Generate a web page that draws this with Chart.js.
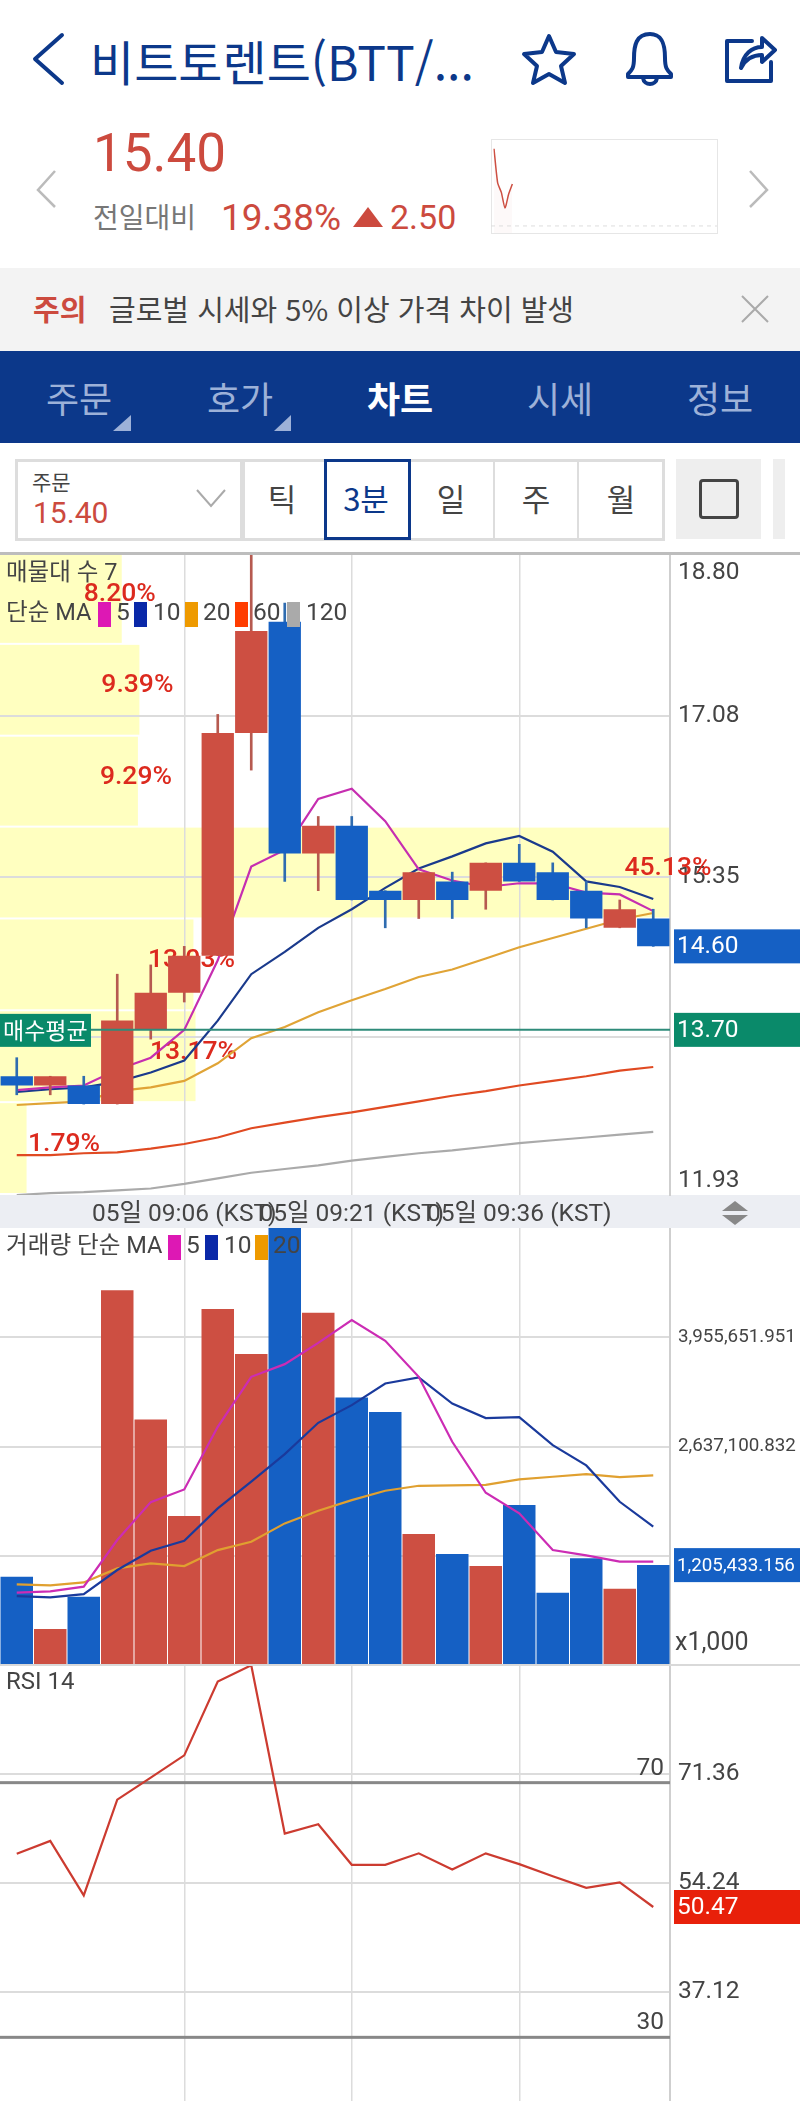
<!DOCTYPE html>
<html lang="ko">
<head>
<meta charset="utf-8">
<title>비트토렌트 차트</title>
<script src="https://cdn.jsdelivr.net/npm/chart.js@4"></script>
<style>
html, body { margin: 0; padding: 0; background: #fff; }
#page { position: relative; width: 800px; height: 2101px; overflow: hidden; font-family: Roboto, "Noto Sans CJK KR", sans-serif; }
#page div, #page span, #page svg, #page canvas { position: absolute; }
.t { white-space: nowrap; line-height: 1; transform: translateY(-50%); }
.c { transform: translate(-50%, -50%); }
.kr { font-family: "Noto Sans CJK KR"; }
.tab { color: #9db1d8; font-size: 36px; top: 397px; }
.btn { top: 497px; font-size: 31px; color: #444; }
</style>
</head>
<body>
<div id="page">
  <!-- header -->
  <svg style="left:0;top:0" width="800" height="100" fill="none" stroke="#0c388a" stroke-width="4" stroke-linejoin="round" stroke-linecap="round">
    <path d="M62 35 L35 59 L62 83"/>
    <path d="M549 36 L556 52 L574 54 L561 66 L565 83 L549 74 L533 83 L537 66 L524 54 L542 52 Z"/>
    <path d="M650 34 C636 34 634 46 634 58 C634 68 632 70 628 74 L628 77 L671 77 L671 74 C667 70 665 68 665 58 C665 46 663 34 650 34 Z M643 78 C644 86 656 86 657 78"/>
    <path d="M752 41 L727 41 L727 81 L771 81 L771 62"/>
    <path d="M741 68 C743 54 752 47 762 47 L762 38 L775 50 L762 62 L762 55 C754 55 746 58 741 68 Z"/>
  </svg>
  <span class="t kr" style="left:90px;top:60px;font-size:48px;color:#0c388a">비트토렌트(BTT/...</span>
  <svg style="left:0;top:160px" width="800" height="60" fill="none" stroke="#bbb" stroke-width="2.5">
    <path d="M55 11 L38 30 L55 47"/><path d="M750 11 L767 30 L750 47"/>
  </svg>
  <span class="t" style="left:93px;top:153px;font-size:53px;color:#cc4a3e">15.40</span>
  <span class="t kr" style="left:93px;top:216px;font-size:28px;color:#777">전일대비</span>
  <span class="t" style="left:221px;top:217px;font-size:37px;color:#cc4a3e">19.38%</span>
  <svg style="left:352px;top:206px" width="32" height="22"><path d="M16 1 L31 21 L1 21 Z" fill="#cc4a3e"/></svg>
  <span class="t" style="left:390px;top:217px;font-size:34px;color:#cc4a3e">2.50</span>
  <div style="left:491px;top:139px;width:225px;height:93px;border:1px solid #e6e6e6"></div>
  <canvas id="sparkChart" width="226" height="94" style="left:491px;top:139px"></canvas>

  <!-- notice -->
  <div style="left:0;top:268px;width:800px;height:83px;background:#f3f3f3"></div>
  <span class="t kr" style="left:33px;top:308px;font-size:29px;font-weight:700;color:#cc4a3e">주의</span>
  <span class="t kr" style="left:109px;top:308px;font-size:29px;color:#444">글로벌 시세와 5% 이상 가격 차이 발생</span>
  <svg style="left:740px;top:295px" width="30" height="28" stroke="#aaa" stroke-width="2"><path d="M2 1 L28 27 M28 1 L2 27"/></svg>

  <!-- tabs -->
  <div style="left:0;top:351px;width:800px;height:92px;background:#0c388a"></div>
  <span class="t c tab kr" style="left:79px">주문</span>
  <span class="t c tab kr" style="left:240px">호가</span>
  <span class="t c tab kr" style="left:400px;color:#fff;font-weight:700">차트</span>
  <span class="t c tab kr" style="left:560px">시세</span>
  <span class="t c tab kr" style="left:720px">정보</span>
  <svg style="left:0;top:410px" width="300" height="24" fill="#9db1d8"><path d="M131 5 L131 21 L113 21 Z"/><path d="M291 5 L291 21 L274 21 Z"/></svg>

  <!-- toolbar -->
  <div style="left:15px;top:459px;width:222px;height:76px;border:3px solid #ddd"></div>
  <span class="t kr" style="left:32px;top:481px;font-size:21px;color:#444">주문</span>
  <span class="t" style="left:33px;top:513px;font-size:30px;color:#cc4a3e">15.40</span>
  <svg style="left:195px;top:488px" width="32" height="20" fill="none" stroke="#aaa" stroke-width="2"><path d="M2 2 L16 18 L30 2"/></svg>
  <div style="left:242px;top:459px;width:417px;height:76px;border:3px solid #ddd"></div>
  <div style="left:409px;top:459px;width:2px;height:80px;background:#ddd"></div>
  <div style="left:493px;top:459px;width:2px;height:80px;background:#ddd"></div>
  <div style="left:577px;top:459px;width:2px;height:80px;background:#ddd"></div>
  <div style="left:324px;top:459px;width:81px;height:75px;border:3px solid #0c388a"></div>
  <span class="t c btn kr" style="left:282px">틱</span>
  <span class="t c btn kr" style="left:366px;color:#0c388a">3분</span>
  <span class="t c btn kr" style="left:451px">일</span>
  <span class="t c btn kr" style="left:536px">주</span>
  <span class="t c btn kr" style="left:621px">월</span>
  <div style="left:676px;top:459px;width:85px;height:80px;background:#eee"></div>
  <div style="left:699px;top:479px;width:34px;height:34px;border:3.5px solid #444;border-radius:4px"></div>
  <div style="left:773px;top:459px;width:12px;height:80px;background:#eee"></div>

  <!-- chart panels -->
  <div style="left:0;top:552px;width:800px;height:3px;background:#bdbdbd;z-index:3"></div>
  <div style="left:0;top:1195px;width:800px;height:33px;background:#eceef3"></div>
  <canvas id="priceChart" width="800" height="675" style="left:0;top:553px"></canvas>
  <canvas id="volumeChart" width="800" height="437" style="left:0;top:1228px"></canvas>
  <canvas id="rsiChart" width="800" height="436" style="left:0;top:1665px"></canvas>
  <div style="left:0;top:1664px;width:800px;height:2px;background:#d9d9d9"></div>
  <svg style="left:715px;top:1200px" width="40" height="26" fill="#888"><path d="M20 1 L33 11 L7 11 Z"/><path d="M20 25 L33 15 L7 15 Z"/></svg>
</div>

<script>
// candles (3 minute bars)
var times = ['05일 08:51 (KST)', '05일 08:54 (KST)', '05일 08:57 (KST)', '05일 09:00 (KST)', '05일 09:03 (KST)',
  '05일 09:06 (KST)', '05일 09:09 (KST)', '05일 09:12 (KST)', '05일 09:15 (KST)', '05일 09:18 (KST)',
  '05일 09:21 (KST)', '05일 09:24 (KST)', '05일 09:27 (KST)', '05일 09:30 (KST)', '05일 09:33 (KST)',
  '05일 09:36 (KST)', '05일 09:39 (KST)', '05일 09:42 (KST)', '05일 09:45 (KST)', '05일 09:48 (KST)'];
var opens  = [13.2, 13.1, 13.1, 12.9, 13.7, 14.1, 14.5, 16.9, 18.1, 15.6, 15.9, 15.2, 15.1, 15.3, 15.2, 15.5, 15.4, 15.2, 14.8, 14.9];
var closes = [13.1, 13.2, 12.9, 13.8, 14.1, 14.5, 16.9, 18.0, 15.6, 15.9, 15.1, 15.1, 15.4, 15.1, 15.5, 15.3, 15.1, 14.9, 15.0, 14.6];
var highs  = [13.4, 13.2, 13.2, 14.3, 14.4, 14.6, 17.1, 19.0, 18.3, 16.0, 16.0, 15.2, 15.4, 15.4, 15.5, 15.7, 15.5, 15.3, 15.1, 15.0];
var lows   = [13.0, 13.0, 12.9, 12.9, 13.6, 14.0, 14.5, 16.5, 15.3, 15.2, 15.1, 14.8, 14.9, 14.9, 15.0, 15.3, 15.1, 14.8, 14.8, 14.6];

var ma5   = [13.05, 13.08, 13.10, 13.27, 13.40, 13.70, 14.45, 15.46, 15.64, 16.19, 16.30, 15.95, 15.43, 15.31, 15.24, 15.28, 15.28, 15.18, 15.16, 14.98];
var ma10  = [13.03, 13.06, 13.08, 13.14, 13.24, 13.37, 13.80, 14.30, 14.54, 14.80, 15.00, 15.23, 15.44, 15.57, 15.71, 15.79, 15.62, 15.30, 15.24, 15.11];
var ma20  = [12.89, 12.91, 12.93, 13.04, 13.08, 13.15, 13.34, 13.61, 13.73, 13.89, 14.02, 14.14, 14.27, 14.35, 14.47, 14.59, 14.69, 14.79, 14.89, 14.96];
var ma60  = [12.35, 12.35, 12.37, 12.38, 12.42, 12.47, 12.54, 12.64, 12.70, 12.76, 12.81, 12.87, 12.93, 12.99, 13.04, 13.10, 13.15, 13.20, 13.26, 13.30];
var ma120 = [11.92, 11.94, 11.95, 11.97, 11.99, 12.04, 12.10, 12.16, 12.20, 12.24, 12.29, 12.33, 12.37, 12.40, 12.44, 12.48, 12.51, 12.54, 12.57, 12.60];

// volume profile, top band first
var profileEdges = [18.84, 17.85, 16.86, 15.88, 14.89, 13.90, 12.91, 11.92];
var profilePct = [8.20, 9.39, 9.29, 45.13, 13.03, 13.17, 1.79];

var priceTicks = [18.80, 17.08, 15.35, 13.62, 11.93];
var lastPrice = 14.60;
var avgBuy = 13.70;

// volume, in thousands
var volumes = [1065000, 434000, 824000, 4524000, 2964000, 1797000, 4298000, 3752000, 5600000, 4250000,
  3229000, 3052000, 1580000, 1339000, 1194000, 1930000, 872000, 1287000, 920000, 1205433.156];
var volMa5  = [872600, 888600, 945000, 1508000, 1966000, 2119000, 2875000, 3478000, 3631000, 3888000,
  4162000, 3912000, 3478000, 2694000, 2079000, 1830000, 1387000, 1323000, 1247000, 1247000];
var volMa10 = [832000, 816000, 856000, 1146000, 1379000, 1500000, 1890000, 2212000, 2545000, 2923000,
  3136000, 3398000, 3470000, 3156000, 2980000, 2992000, 2654000, 2409000, 1970000, 1669000];
var volMa20 = [973000, 961000, 997000, 1166000, 1226000, 1194000, 1387000, 1488000, 1709000, 1862000,
  1990000, 2103000, 2163000, 2167000, 2175000, 2240000, 2272000, 2304000, 2268000, 2288000];
var volTicks = [3955651.951, 2637100.832, 1318550.416];
var volTickLabels = ['3,955,651.951', '2,637,100.832', ''];

var rsi = [58.82, 60.86, 52.29, 67.34, 70.8, 74.29, 85.88, 88.44, 62.01, 63.47, 57.1, 57.1, 58.9, 56.36, 58.9, 57.2, 55.3, 53.49, 54.33, 50.47];
var rsiTicks = [71.36, 54.24, 37.12];
var rsiLevels = [70, 30];

// small price line in the header
var sparkValues = [17.5, 15.46, 14.9, 13.97, 14.8, 15.4];
var sparkSlots = 61;
var prevClose = 12.90;

var timeTickIdx = [5, 10, 15];
var RED = '#cd4f42', BLUE = '#1560c4', GREEN = '#0a8a6a';
var TXT = '#444', GRID = '#dcdcdc', NUMFONT = 'Roboto, "Noto Sans CJK KR"';
var AXISW = 130;

function candleColor(i) { return closes[i] >= opens[i] ? RED : BLUE; }
function lineDs(data, color, order) {
  return { type: 'line', data: data, borderColor: color, borderWidth: 2.2, pointRadius: 0, tension: 0, order: order };
}
function noPad(s) { s.paddingTop = 0; s.paddingBottom = 0; s.paddingLeft = 0; s.paddingRight = 0; }
function baseOptions(yMin, yMax, ticks, labelFmt) {
  return {
    responsive: false, animation: false, events: [],
    layout: { padding: 0, autoPadding: false },
    plugins: { legend: { display: false }, tooltip: { enabled: false } },
    scales: {
      x: {
        grid: { offset: false, drawTicks: false, lineWidth: 1.5,
          color: function (c) { return timeTickIdx.indexOf(c.index) >= 0 ? GRID : 'transparent'; } },
        border: { display: false },
        ticks: { display: false, autoSkip: false, maxRotation: 0, minRotation: 0 },
        afterFit: function (s) { s.height = 0; noPad(s); }
      },
      y: {
        position: 'right', min: yMin, max: yMax,
        grid: { color: GRID, lineWidth: 2, drawTicks: false },
        border: { display: true, color: '#cfcfcf', width: 2 },
        ticks: { color: TXT, padding: 8, font: { family: NUMFONT, size: 24.5 }, callback: labelFmt },
        afterBuildTicks: function (s) { s.ticks = ticks.map(function (v) { return { value: v }; }); },
        afterFit: function (s) { s.width = AXISW; noPad(s); }
      }
    }
  };
}
function flag(chart, value, text, color, size) {
  var y = chart.scales.y.getPixelForValue(value), c = chart.ctx;
  c.fillStyle = color;
  c.fillRect(674, y - 17, 126, 34);
  c.fillStyle = '#fff';
  c.font = size + 'px ' + NUMFONT;
  c.textAlign = 'left';
  c.textBaseline = 'middle';
  c.fillText(text, 677, y + 1);
}
function drawLegend(c, items, y) {
  c.textBaseline = 'middle';
  c.textAlign = 'left';
  items.forEach(function (it) {
    if (it.color) {
      c.fillStyle = it.color;
      c.fillRect(it.x, y - 12, 13, 25);
    } else {
      c.fillStyle = TXT;
      c.font = (it.text.length > 3 ? '23.6px ' : '24.5px ') + NUMFONT;
      c.fillText(it.text, it.x, y);
    }
  });
}

var priceDecor = {
  id: 'priceDecor',
  beforeDraw: function (chart) {
    var c = chart.ctx, y = chart.scales.y, xp = chart.scales.xp;
    c.fillStyle = '#ffffc0';
    profilePct.forEach(function (p, i) {
      var top = y.getPixelForValue(profileEdges[i]), bot = y.getPixelForValue(profileEdges[i + 1]);
      c.fillRect(xp.getPixelForValue(0), top, xp.getPixelForValue(p) - xp.getPixelForValue(0), bot - top - 2);
    });
  },
  beforeDatasetsDraw: function (chart) {
    var c = chart.ctx, y = chart.scales.y, xp = chart.scales.xp;
    c.font = '500 26.5px Roboto';
    c.fillStyle = '#dc2a1e';
    c.textAlign = 'center';
    c.textBaseline = 'middle';
    profilePct.forEach(function (p, i) {
      var mid = (y.getPixelForValue(profileEdges[i]) + y.getPixelForValue(profileEdges[i + 1])) / 2;
      var tx = Math.max(xp.getPixelForValue(p) - 2, 64);
      c.fillText(p.toFixed(2) + '%', tx, mid - 5);
    });
  },
  afterDatasetsDraw: function (chart) {
    var c = chart.ctx, y = chart.scales.y.getPixelForValue(avgBuy);
    c.strokeStyle = '#2e8b7a';
    c.lineWidth = 2;
    c.beginPath();
    c.moveTo(0, y);
    c.lineTo(chart.chartArea.right, y);
    c.stroke();
  },
  afterDraw: function (chart) {
    var c = chart.ctx, area = chart.chartArea;
    c.textAlign = 'left';
    c.textBaseline = 'middle';
    c.fillStyle = TXT;
    c.font = '24.5px ' + NUMFONT;
    c.fillText(priceTicks[0].toFixed(2), 678, area.top + 20);
    c.fillText(priceTicks[priceTicks.length - 1].toFixed(2), 678, area.bottom - 14);
    c.font = '23.5px ' + NUMFONT;
    c.fillText('매물대 수 7', 6, 21);
    drawLegend(c, [{ text: '단순 MA', x: 6 }, { color: '#dd18b4', x: 98 }, { text: '5', x: 116 }, { color: '#0a28a8', x: 134 },
      { text: '10', x: 153 }, { color: '#ee9a00', x: 185 }, { text: '20', x: 203 }, { color: '#ff3c00', x: 235 },
      { text: '60', x: 253 }, { color: '#aaaaaa', x: 287 }, { text: '120', x: 306 }], 61);
    flag(chart, lastPrice, lastPrice.toFixed(2), BLUE, 24.5);
    flag(chart, avgBuy, avgBuy.toFixed(2), GREEN, 24.5);
    var y = chart.scales.y.getPixelForValue(avgBuy);
    c.fillStyle = GREEN;
    c.fillRect(0, y - 16, 91, 33);
    c.fillStyle = '#fff';
    c.font = '23px "Noto Sans CJK KR"';
    c.fillText('매수평균', 3, y);
  }
};

var priceOpts = baseOptions(11.92, 18.84, priceTicks.slice(1, -1), function (v) { return v.toFixed(2); });
priceOpts.scales.xp = { type: 'linear', display: false, axis: 'x', offset: false, min: 0, max: 45.13 };
priceOpts.scales.x.ticks = {
  display: true, autoSkip: false, maxRotation: 0, minRotation: 0, padding: 5, color: TXT,
  font: { family: NUMFONT, size: 24.5 },
  callback: function (v, i) { return timeTickIdx.indexOf(i) >= 0 ? times[i] : ''; }
};
priceOpts.scales.x.afterFit = function (s) { s.height = 33; noPad(s); };

new Chart(document.getElementById('priceChart'), {
  type: 'bar',
  data: {
    labels: times,
    datasets: [
      { data: opens.map(function (o, i) { return [o, closes[i]]; }), grouped: false, order: 1,
        barPercentage: 0.965, categoryPercentage: 1,
        backgroundColor: opens.map(function (o, i) { return candleColor(i); }) },
      { data: lows.map(function (l, i) { return [l, highs[i]]; }), grouped: false, order: 2, barThickness: 2,
        backgroundColor: opens.map(function (o, i) { return candleColor(i) === RED ? '#b65a50' : '#2f6cb0'; }) },
      lineDs(ma120, '#aaaaaa', 7), lineDs(ma60, '#e04a22', 6), lineDs(ma20, '#e0a436', 5),
      lineDs(ma10, '#1a3a8c', 4), lineDs(ma5, '#c62eb0', 3)
    ]
  },
  options: priceOpts,
  plugins: [priceDecor]
});

var volumeDecor = {
  id: 'volumeDecor',
  afterDraw: function (chart) {
    var c = chart.ctx;
    flag(chart, volumes[volumes.length - 1], volumes[volumes.length - 1].toLocaleString('en-US', { minimumFractionDigits: 3 }), BLUE, 18.8);
    c.textAlign = 'left';
    drawLegend(c, [{ text: '거래량 단순 MA', x: 6 }, { color: '#dd18b4', x: 168 }, { text: '5', x: 186 }, { color: '#0a28a8', x: 205 },
      { text: '10', x: 224 }, { color: '#ee9a00', x: 255 }, { text: '20', x: 273 }], 19);
    c.fillStyle = TXT;
    c.font = '25px ' + NUMFONT;
    c.fillText('x1,000', 675, chart.chartArea.bottom - 21);
  }
};
var volOpts = baseOptions(0, 5274201.664, volTicks, function (v, i) { return volTickLabels[i]; });
volOpts.scales.y.ticks.font = { family: NUMFONT, size: 18.8 };
new Chart(document.getElementById('volumeChart'), {
  type: 'bar',
  data: {
    labels: times,
    datasets: [
      { data: volumes, order: 4, barPercentage: 0.97, categoryPercentage: 1,
        backgroundColor: opens.map(function (o, i) { return candleColor(i); }) },
      lineDs(volMa20, '#e0a030', 3), lineDs(volMa10, '#1a3a9c', 2), lineDs(volMa5, '#cc2cb4', 1)
    ]
  },
  options: volOpts,
  plugins: [volumeDecor]
});

var rsiDecor = {
  id: 'rsiDecor',
  beforeDatasetsDraw: function (chart) {
    var c = chart.ctx, y = chart.scales.y, area = chart.chartArea;
    rsiLevels.forEach(function (lv) {
      var py = y.getPixelForValue(lv);
      c.fillStyle = '#888';
      c.fillRect(area.left, py - 1.5, area.right, 3);
      c.fillStyle = TXT;
      c.font = '24.5px ' + NUMFONT;
      c.textAlign = 'right';
      c.textBaseline = 'middle';
      c.fillText(String(lv), 664, py - 14);
    });
  },
  afterDraw: function (chart) {
    var c = chart.ctx;
    flag(chart, rsi[rsi.length - 1], rsi[rsi.length - 1].toFixed(2), '#e8200a', 24.5);
    c.textAlign = 'left';
    c.textBaseline = 'middle';
    c.fillStyle = TXT;
    c.font = '24px ' + NUMFONT;
    c.fillText('RSI 14', 6, 18);
  }
};
var rsiOpts = baseOptions(20, 88.48, rsiTicks, function (v) { return v.toFixed(2); });
rsiOpts.scales.x.offset = true;
new Chart(document.getElementById('rsiChart'), {
  type: 'line',
  data: {
    labels: times,
    datasets: [{ data: rsi, borderColor: '#cc3b30', borderWidth: 2.2, pointRadius: 0, tension: 0 }]
  },
  options: rsiOpts,
  plugins: [rsiDecor]
});

// header sparkline
var sparkLabels = [];
for (var i = 0; i < sparkSlots; i++) sparkLabels.push(i);
new Chart(document.getElementById('sparkChart'), {
  type: 'line',
  data: {
    labels: sparkLabels,
    datasets: [{ data: sparkValues, borderColor: '#cd4f42', borderWidth: 1.5, pointRadius: 0, tension: 0.2,
      fill: 'origin', backgroundColor: 'rgba(205,79,66,0.03)' }]
  },
  options: {
    responsive: false, animation: false, events: [],
    layout: { padding: { left: 3, right: 3 }, autoPadding: false },
    plugins: { legend: { display: false }, tooltip: { enabled: false } },
    scales: { x: { display: false }, y: { display: false, min: 12.48, max: 18.08 } }
  },
  plugins: [{
    id: 'prevLine',
    afterDraw: function (chart) {
      var c = chart.ctx, y = chart.scales.y.getPixelForValue(prevClose);
      c.strokeStyle = '#dddddd';
      c.setLineDash([4, 4]);
      c.beginPath();
      c.moveTo(0, y);
      c.lineTo(226, y);
      c.stroke();
    }
  }]
});
</script>
</body>
</html>
